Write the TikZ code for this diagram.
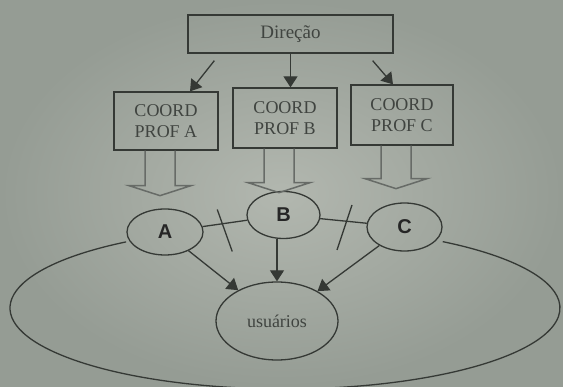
\documentclass[tikz,border=0pt]{standalone}
\usepackage{fontspec}
\setmainfont{Liberation Serif}
\newfontfamily\letterfont{Liberation Sans}
\usetikzlibrary{arrows.meta,shapes.geometric,calc,positioning}
\definecolor{PaperDark}{HTML}{959C94}
\definecolor{PaperLight}{HTML}{B2B7AF}
\definecolor{InkColour}{HTML}{353935}
\definecolor{TextInk}{HTML}{404440}
\tikzstyle{BoxNode}=[draw=InkColour,rectangle,line width=1.3pt,text=TextInk,font=\fontsize{18}{21}\selectfont,align=center,inner sep=0pt]
\tikzstyle{GroupNode}=[draw=InkColour,ellipse,line width=1.3pt,inner sep=0pt,text=black!85,font=\letterfont\bfseries\fontsize{20}{20}\selectfont]
\tikzstyle{UserNode}=[draw=InkColour,ellipse,line width=1.3pt,inner sep=0pt,text=TextInk,font=\fontsize{18}{18}\selectfont]
\tikzstyle{HollowArrow}=[draw=InkColour!75,line width=1.5pt,line join=miter]
\tikzstyle{ThinLink}=[draw=InkColour,line width=1.3pt]
\tikzstyle{Flow}=[ThinLink,-{Triangle[length=11pt,width=14pt]}]

\begin{document}
\begin{tikzpicture}[x=1pt,y=-1pt]
  \shade[inner color=PaperLight,outer color=PaperDark] (0,0) rectangle (563,387);
  \useasboundingbox (0,0) rectangle (563,387);

  \node[BoxNode,minimum width=205pt,minimum height=38pt](Direcao) at (290.5,34){\fontsize{19}{19}\selectfont Direção};
  \node[BoxNode,minimum width=104pt,minimum height=58pt](CoordA) at (166,121){COORD\\PROF A};
  \node[BoxNode,minimum width=104pt,minimum height=60pt](CoordB) at (285,118){COORD\\PROF B};
  \node[BoxNode,minimum width=102pt,minimum height=60pt](CoordC) at (402,115){COORD\\PROF C};

  \node[GroupNode,minimum width=76pt,minimum height=46pt](GroupA) at (165,232){A};
  \node[GroupNode,minimum width=73pt,minimum height=47pt](GroupB) at (283.5,215){B};
  \node[GroupNode,minimum width=75pt,minimum height=48pt](GroupC) at (404.5,227){C};
  \node[UserNode,minimum width=122pt,minimum height=78pt](Usuarios) at (277,321){usuários};

  \draw[Flow] ($(Direcao.south west)+(27,7)$) -- ($(CoordA.north)+(24,0)$);
  \draw[Flow] (Direcao.south) -- (Direcao.south |- CoordB.north);
  \draw[Flow] ($(Direcao.south east)+(-21,7)$) -- ($(CoordC.north)+(-9,0)$);

  % open block arrows under the coordinations
  \foreach \Box/\Drop in {CoordA/35,CoordB/34,CoordC/33}
    \draw[HollowArrow] ($(\Box.south)+(-21,0)$) -- ++(0,\Drop) -- ++(-16,0) -- ++(31,10) -- ++(31,-10) -- ++(-16,0) -- ++(0,-\Drop);

  \draw[ThinLink](GroupA) -- (GroupB);
  \draw[ThinLink](GroupB) -- (GroupC);
  \draw[ThinLink] ($(GroupA)!0.5!(GroupB)+(-7,-14)$) -- ++(15,42);
  \draw[ThinLink] ($(GroupB)!0.5!(GroupC)+(8,-16)$) -- ++(-15,45);

  \draw[Flow] (GroupA) -- (Usuarios);
  \draw[Flow] (GroupB.south -| Usuarios.north) -- (Usuarios.north);
  \draw[Flow] (GroupC) -- (Usuarios);

  \coordinate (Territorio) at (285,308);
  \draw[ThinLink] (Territorio) ++(234.7:275 and 81) arc[start angle=234.7,end angle=-55,x radius=275,y radius=81];
\end{tikzpicture}
\end{document}
